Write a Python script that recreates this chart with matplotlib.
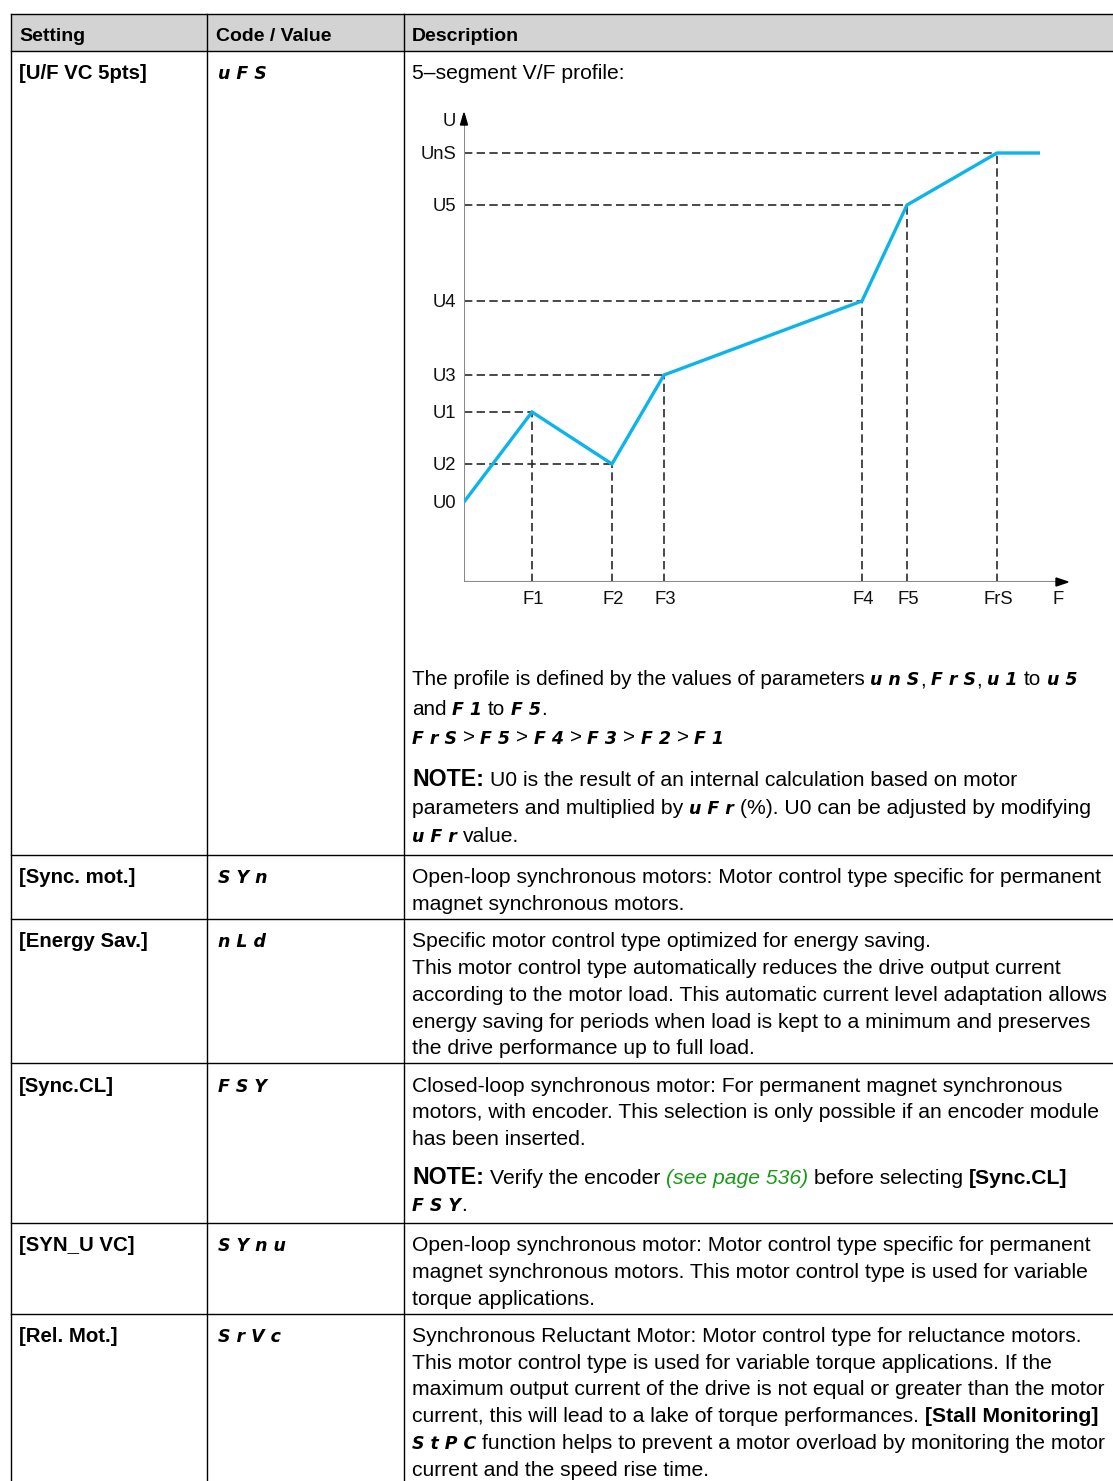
import matplotlib
matplotlib.use("Agg")
import matplotlib.pyplot as plt
from matplotlib.patches import Rectangle, Polygon
from matplotlib.lines import Line2D

W, H = 1113, 1481
fig = plt.figure(figsize=(W / 100, H / 100), dpi=100)
fig.patch.set_facecolor("white")
R = fig.canvas.get_renderer()

FONT = "Liberation Sans"
FS = 15.2        # body text size (pt)
CODE_FS = 12.5   # 7-segment style code size

# ---------------- data -----------------
headers = ["Setting", "Code / Value", "Description"]
settings = ["[U/F VC 5pts]", "[Sync. mot.]", "[Energy Sav.]", "[Sync.CL]", "[SYN_U VC]", "[Rel. Mot.]"]
codes = ["uFS", "SYn", "nLd", "FSY", "SYnu", "SrVc"]

F_labels = ["F1", "F2", "F3", "F4", "F5", "FrS"]
F_vals = [68, 148, 200, 398, 443, 533]
F_end = 576
U_labels = ["U0", "U1", "U2", "U3", "U4", "U5", "UnS"]
U_vals = [80, 170, 118, 207, 281, 377, 429]

# ---------------- helpers -----------------
def fx(x):
    return x / W

def fy(y):
    return 1 - y / H

def hline(x0, x1, y, lw=1.0, color="black"):
    fig.add_artist(Line2D([fx(x0), fx(x1)], [fy(y), fy(y)], lw=lw, color=color))

def vline(x, y0, y1, lw=1.0, color="black"):
    fig.add_artist(Line2D([fx(x), fx(x)], [fy(y0), fy(y1)], lw=lw, color=color))

def code_str(c):
    return " ".join(list(c))

STYLES = {
    "n": dict(family=FONT, size=FS),
    "b": dict(family=FONT, size=FS, weight="bold"),
    "note": dict(family=FONT, size=FS + 1.5, weight="bold"),
    "link": dict(family=FONT, size=FS, style="italic", color="#1a9a1a"),
    "code": dict(family="DejaVu Sans", size=CODE_FS, style="oblique", weight="bold"),
}

_sp = {}
def space_w(st):
    if st not in _sp:
        props = dict(STYLES[st])
        t1 = fig.text(0, 0, "a a", **props)
        t2 = fig.text(0, 0, "aa", **props)
        _sp[st] = t1.get_window_extent(renderer=R).width - t2.get_window_extent(renderer=R).width
        t1.remove(); t2.remove()
    return _sp[st]

def run_line(x, y, runs, size_scale=1.0):
    """runs: list of (text, style). y is baseline pixel."""
    cx = x
    for txt, st in runs:
        props = dict(STYLES[st])
        if st == "code":
            txt = code_str(txt)
        else:
            props["size"] = props["size"] * size_scale
        lead = len(txt) - len(txt.lstrip(" "))
        trail = len(txt) - len(txt.rstrip(" "))
        core = txt.strip(" ")
        sp = space_w(st) * (size_scale if st != "code" else 1.0)
        cx += lead * sp
        if core:
            t = fig.text(fx(cx), fy(y), core, ha="left", va="baseline", **props)
            cx += t.get_window_extent(renderer=R).width
        cx += trail * sp
    return cx

# ---------------- table grid -----------------
X0, X1, X2, XR = 11, 207, 404, 1113
Y_TOP, Y_HDR = 14, 51
row_lines = [855, 919, 1063, 1223, 1314]
fig.add_artist(Rectangle((fx(X0), fy(Y_HDR)), fx(XR) - fx(X0), fy(Y_TOP) - fy(Y_HDR),
                         facecolor="#d3d3d3", edgecolor="none"))
hline(X0, XR, Y_TOP)
hline(X0, XR, Y_HDR)
for y in row_lines:
    hline(X0, XR, y)
for x in (X0, X1, X2):
    vline(x, Y_TOP, H)

# header
col_x = [19, 216, 412]
for cxp, h in zip(col_x, headers):
    fig.text(fx(cxp), fy(41), h, ha="left", va="baseline", family=FONT, size=14, weight="bold")

# setting + code columns
row_first = [72, 876, 940, 1085, 1244, 1335]
for s, c, yc in zip(settings, codes, row_first):
    fig.text(fx(19), fy(yc + 7), s, ha="left", va="baseline", family=FONT, size=14.7, weight="bold")
    run_line(218, yc + 7, [(c, "code")])

# ---------------- description texts -----------------
def L(y, runs, s=1.0):
    run_line(412, y + 7, runs, s)

L(72, [("5\u2013segment V/F profile:", "n")])
L(678, [("The profile is defined by the values of parameters ", "n"), ("unS", "code"), (", ", "n"),
        ("FrS", "code"), (", ", "n"), ("u1", "code"), (" to ", "n"), ("u5", "code")], 0.975)
L(708, [("and ", "n"), ("F1", "code"), (" to ", "n"), ("F5", "code"), (".", "n")], 0.975)
L(737, [("FrS", "code"), (" > ", "n"), ("F5", "code"), (" > ", "n"), ("F4", "code"), (" > ", "n"),
        ("F3", "code"), (" > ", "n"), ("F2", "code"), (" > ", "n"), ("F1", "code")], 0.975)
L(779, [("NOTE:", "note"), (" U0 is the result of an internal calculation based on motor", "n")])
L(807, [("parameters and multiplied by ", "n"), ("uFr", "code"), (" (%). U0 can be adjusted by modifying", "n")])
L(835, [("uFr", "code"), (" value.", "n")])

L(876, [("Open-loop synchronous motors: Motor control type specific for permanent", "n")])
L(903, [("magnet synchronous motors.", "n")])

L(940, [("Specific motor control type optimized for energy saving.", "n")])
L(967, [("This motor control type automatically reduces the drive output current", "n")])
L(994, [("according to the motor load. This automatic current level adaptation allows", "n")])
L(1021, [("energy saving for periods when load is kept to a minimum and preserves", "n")])
L(1047, [("the drive performance up to full load.", "n")])

L(1085, [("Closed-loop synchronous motor: For permanent magnet synchronous", "n")])
L(1111, [("motors, with encoder. This selection is only possible if an encoder module", "n")])
L(1138, [("has been inserted.", "n")])
L(1177, [("NOTE:", "note"), (" Verify the encoder ", "n"), ("(see page 536)", "link"),
         (" before selecting ", "n"), ("[Sync.CL]", "b")])
L(1204, [("FSY", "code"), (".", "n")])

L(1244, [("Open-loop synchronous motor: Motor control type specific for permanent", "n")])
L(1271, [("magnet synchronous motors. This motor control type is used for variable", "n")])
L(1298, [("torque applications.", "n")])

L(1335, [("Synchronous Reluctant Motor: Motor control type for reluctance motors.", "n")])
L(1362, [("This motor control type is used for variable torque applications. If the", "n")])
L(1388, [("maximum output current of the drive is not equal or greater than the motor", "n")])
L(1415, [("current, this will lead to a lake of torque performances. ", "n"), ("[Stall Monitoring]", "b")])
L(1442, [("StPC", "code"), (" function helps to prevent a motor overload by monitoring the motor", "n")])
L(1469, [("current and the speed rise time.", "n")])

# ---------------- V/F chart -----------------
OX, OY = 464, 582
AW, AH = 620, 480
ax = fig.add_axes([fx(OX), fy(OY), AW / W, AH / H])
ax.set_xlim(0, AW)
ax.set_ylim(0, AH)
ax.axis("off")

dash = dict(color="#2a2a2a", lw=1.2, linestyle=(0, (5, 2.6)), zorder=2)
curve_x = [0] + F_vals + [F_end]
curve_y = U_vals + [U_vals[-1]]
for k in range(1, len(U_vals)):
    xv, yv = F_vals[k - 1], U_vals[k]
    ax.plot([0, xv], [yv, yv], **dash)
    ax.plot([xv, xv], [0, yv], **dash)

X_AX_END = 604
Y_AX_END = 469
ax.plot([0, X_AX_END - 8], [0, 0], color="#8a8a8a", lw=1.5, zorder=3, solid_capstyle="butt")
ax.plot([0, 0], [0, Y_AX_END - 10], color="#8a8a8a", lw=1.5, zorder=3, solid_capstyle="butt")
ax.add_patch(Polygon([[X_AX_END - 12, 4], [X_AX_END - 12, -4], [X_AX_END, 0]], closed=True,
                     color="black", zorder=4, clip_on=False))
ax.add_patch(Polygon([[-3.5, Y_AX_END - 12], [3.5, Y_AX_END - 12], [0, Y_AX_END]], closed=True,
                     color="black", zorder=4, clip_on=False))

ax.plot(curve_x, curve_y, color="#0cb4ea", lw=2.4, zorder=5, solid_capstyle="butt",
        solid_joinstyle="miter")

lab = dict(family=FONT, size=13.3, color="#111111")
for lbl, v in zip(U_labels, U_vals):
    ax.text(-8, v - 2, lbl, ha="right", va="center", **lab)
ax.text(-8, Y_AX_END - 9, "U", ha="right", va="center", **lab)
for lbl, v in zip(F_labels, F_vals):
    ax.text(v + 1, -18, lbl, ha="center", va="center", **lab)
ax.text(X_AX_END - 10, -18, "F", ha="center", va="center", **lab)

fig.savefig("out.png", dpi=100)
